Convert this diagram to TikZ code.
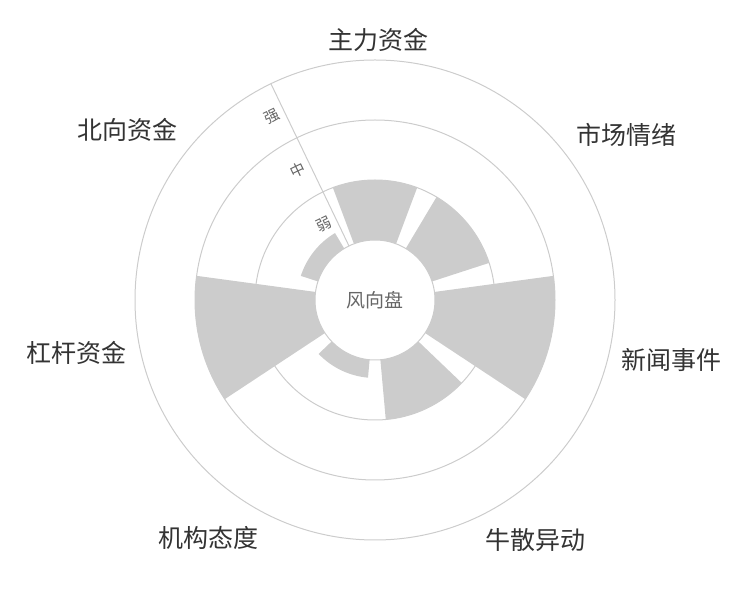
\documentclass[tikz,border=0pt]{standalone}
\usepackage{fontspec}
\setmainfont{Noto Sans CJK SC}
\usepackage{xcolor}
\usepackage{tikz}
\usetikzlibrary{calc}
\usetikzlibrary{positioning}
\definecolor{gridgray}{HTML}{CCCCCC}
\definecolor{bargray}{HTML}{CCCCCC}
\definecolor{labeltext}{HTML}{333333}
\definecolor{ticktext}{HTML}{666666}
\tikzset{grid/.style = {draw = gridgray, line width = 1pt}}
\tikzset{catlabel/.style = {draw=none, inner sep = 1, text = labeltext, font = \fontsize{25}{25}\selectfont}}
\tikzset{ticklabel/.style = {draw=none, inner sep = 1, text = ticktext, font = \fontsize{15}{15}\selectfont, rotate = 25.7}}

\begin{document}
\begin{tikzpicture}[x=1pt, y=1pt]
\useasboundingbox (0, 0) rectangle (750, 600);
\coordinate (O) at (375, 300);
% bars
\foreach \i/\r in {0/120, 1/120, 2/180, 3/120, 4/78, 5/180, 6/78} {
  \pgfmathsetmacro{\a}{90 - 51.4286*\i}
  \fill [bargray] ($(O) + (\a-20.57:60)$) -- ($(O) + (\a-20.57:\r)$)
    arc [start angle = \a-20.57, end angle = \a+20.57, radius = \r]
    -- ($(O) + (\a+20.57:60)$)
    arc [start angle = \a+20.57, end angle = \a-20.57, radius = 60] -- cycle;
}
% grid
\foreach \r in {60, 120, 180, 240}
  \draw [grid] (O) circle (\r);
\coordinate (A0) at ($(O) + (115.7:60)$);
\coordinate (A1) at ($(O) + (115.7:240)$);
\draw [grid] (A0) -- (A1);
\node [ticklabel] (weak) at ($(O) + (115.7:90) + (205.7:13)$) {弱};
\node [ticklabel] (mid) at ($(O) + (115.7:150) + (205.7:13)$) {中};
\node [ticklabel] (strong) at ($(O) + (115.7:210) + (205.7:13)$) {强};
\node [draw=none, text = ticktext, font = \fontsize{19}{19}\selectfont] (hub) at (O) {风向盘};
% categories
\node [catlabel] (main) at (378, 560) {主力资金};
\node [catlabel] (mood) at (626, 465) {市场情绪};
\node [catlabel] (news) at (671, 240) {新闻事件};
\node [catlabel] (bull) at (535, 60) {牛散异动};
\node [catlabel] (inst) at (208, 62) {机构态度};
\node [catlabel] (lever) at (77, 247) {杠杆资金};
\node [catlabel] (north) at (127, 470) {北向资金};
\end{tikzpicture}
\end{document}
